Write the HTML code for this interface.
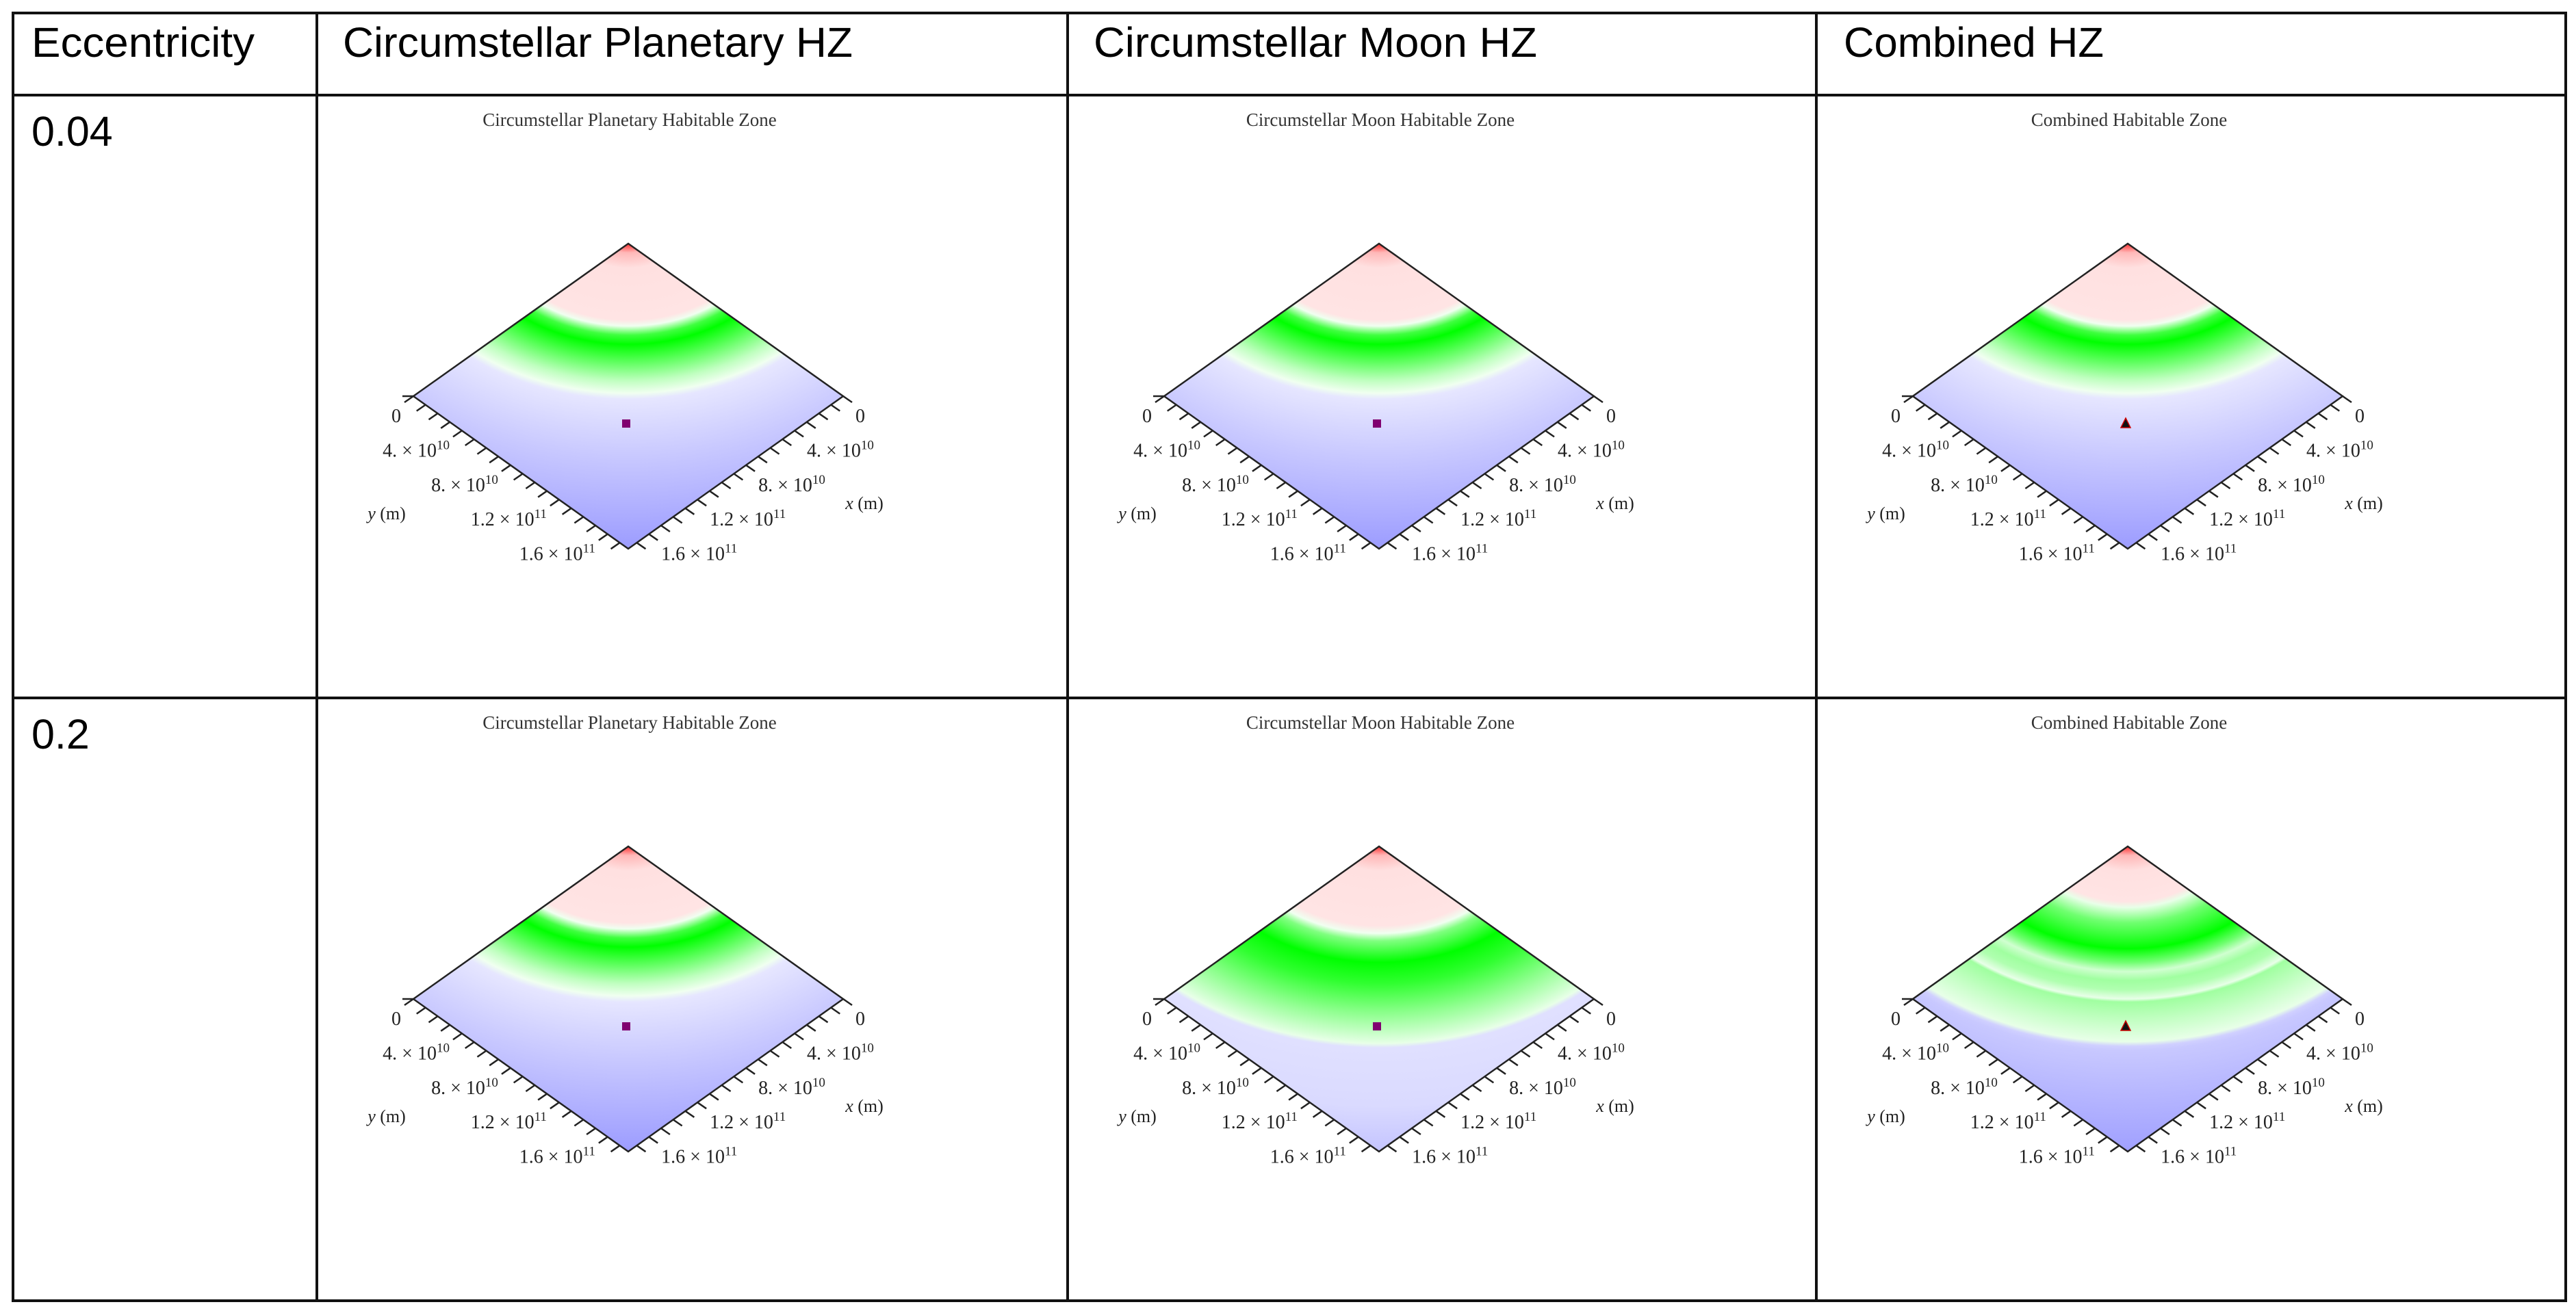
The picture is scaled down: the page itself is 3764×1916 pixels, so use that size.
<!DOCTYPE html>
<html><head><meta charset="utf-8">
<style>
html,body{margin:0;padding:0;background:#fff;}
svg{display:block;}
</style></head>
<body>
<svg id="root" width="3764" height="1916" viewBox="0 0 3764 1916" xmlns="http://www.w3.org/2000/svg">
<defs id="defs"></defs>
<g id="table" stroke="#111" stroke-width="4" fill="none">
<rect x="19" y="19" width="3730" height="1882"/>
<line x1="463" y1="19" x2="463" y2="1901"/>
<line x1="1560" y1="19" x2="1560" y2="1901"/>
<line x1="2654" y1="19" x2="2654" y2="1901"/>
<line x1="19" y1="139" x2="3749" y2="139"/>
<line x1="19" y1="1020" x2="3749" y2="1020"/>
</g>
<g font-family="'Liberation Sans', sans-serif" font-size="61" fill="#000">
<text x="46" y="83" textLength="326" lengthAdjust="spacingAndGlyphs">Eccentricity</text>
<text x="501" y="83" textLength="745" lengthAdjust="spacingAndGlyphs">Circumstellar Planetary HZ</text>
<text x="1598" y="83" textLength="648" lengthAdjust="spacingAndGlyphs">Circumstellar Moon HZ</text>
<text x="2694" y="83" textLength="380" lengthAdjust="spacingAndGlyphs">Combined HZ</text>
<text x="46" y="213">0.04</text>
<text x="46" y="1094">0.2</text>
</g>
<g id="plots"></g>
</svg>
<script>
// ---- data ----
const tickValues = [0, 4e10, 8e10, 1.2e11, 1.6e11];
const tickMantissa = ["0", "4.", "8.", "1.2", "1.6"];
const tickExponent = ["", "10", "10", "11", "11"];
const axisMax = 1.77e11;
const minorStep = 1e10;
const panelTitles = ["Circumstellar Planetary Habitable Zone","Circumstellar Moon Habitable Zone","Combined Habitable Zone"];
const bandA_t = [0, .03, .08, .25, .27, .30, .33, .38, .45, .49, .51, .70, 1];
const bandA_c = ["#ff3030","#ffb8b8","#ffe0e0","#ffe4e4","#f0fff0","#40ff40","#00ff00","#50ff50","#c0ffc0","#f0fff0","#e6e6ff","#c8c8ff","#9c9cff"];
const bandB_t = [0, .03, .08, .26, .285, .31, .38, .45, .55, .63, .646, .66, .85, 1];
const bandB_c = ["#ff3030","#ffb8b8","#ffe0e0","#ffe4e4","#f0fff0","#80ff80","#00ff00","#30ff30","#90ff90","#d8ffd8","#e8ffe8","#e0e0ff","#dadaff","#c4c4ff"];
const bandC_t = [0, .03, .08, .18, .20, .25, .335, .38, .41, .44, .47, .50, .51, .58, .64, .655, .67, 1];
const bandC_c = ["#ff3030","#ffb8b8","#ffe0e0","#ffe4e4","#e8ffe8","#70ff70","#00ff00","#70ff70","#d0ffd0","#a0ffa0","#b0ffb0","#e8ffe8","#a0ffa0","#c8ffc8","#e8ffe8","#d0d0ff","#c8c8ff","#a0a0ff"];
const panelBandT = [[bandA_t,bandA_t,bandA_t],[bandA_t,bandB_t,bandC_t]];
const panelBandC = [[bandA_c,bandA_c,bandA_c],[bandA_c,bandB_c,bandC_c]];
const markerType = ["square","square","triangle"];

// ---- layout ----
const colLeft = [463, 1560, 2654];
const rowTop = [139, 1020];
const HW = 314, HH = 223, D = 0.05;
const NS = "http://www.w3.org/2000/svg";
const plots = document.getElementById('plots');
const defs = document.getElementById('defs');
function mk(tag, attrs, parent){ const e=document.createElementNS(NS,tag); for(const k in attrs) e.setAttribute(k,attrs[k]); if(parent) parent.appendChild(e); return e; }
const Rmax = Math.SQRT2*(1+D);
function tToOffset(t){ return Math.SQRT2*(t+D)/Rmax; }

for(let r=0;r<2;r++){
 for(let c=0;c<3;c++){
  const tx = colLeft[c]+455, ty = rowTop[r]+217;
  const g = mk('g',{},plots);
  
  
  const title = mk('text',{x:tx+2,y:ty-172,'text-anchor':'middle','font-family':"'Liberation Serif', serif",'font-size':27,fill:'#333'},g);
  title.textContent = panelTitles[c];
  
  
  const gid='grad'+r+c;
  const grad = mk('radialGradient',{id:gid,gradientUnits:'userSpaceOnUse',cx:-D,cy:-D,r:Rmax,fx:-D,fy:-D},defs);
  const bt=panelBandT[r][c], bc=panelBandC[r][c];
  for(let i=0;i<bt.length;i++) mk('stop',{offset:tToOffset(bt[i]),'stop-color':bc[i]},grad);
  const surf = mk('g',{transform:`matrix(${HW},${HH},${-HW},${HH},${tx},${ty})`},g);
  const sq = mk('rect',{x:0,y:0,width:1,height:1,fill:`url(#${gid})`},surf);
  
  
  const L=[tx-HW,ty+HH], R=[tx+HW,ty+HH], B=[tx,ty+2*HH];
  const outline = mk('polygon',{points:`${tx},${ty} ${R[0]},${R[1]} ${B[0]},${B[1]} ${L[0]},${L[1]}`,fill:'none',stroke:'#222','stroke-width':2.5},g);
  
  
  mk('line',{x1:L[0]-16,y1:L[1],x2:L[0],y2:L[1],stroke:'#222','stroke-width':2.5},g);
  const ticks = mk('g',{stroke:'#222','stroke-width':2.5},g);
  
  
  for(let v=0; v<=axisMax; v+=minorStep){
   const f=v/axisMax;
   const yl=[L[0]+HW*f, L[1]+HH*f];
   mk('line',{x1:yl[0],y1:yl[1],x2:yl[0]-13,y2:yl[1]+9},ticks);
   const xl=[R[0]-HW*f, R[1]+HH*f];
   mk('line',{x1:xl[0],y1:xl[1],x2:xl[0]+13,y2:xl[1]+9},ticks);
  }
  for(let i=0;i<tickValues.length;i++){
   const f=tickValues[i]/axisMax;
   const yl=[L[0]+HW*f, L[1]+HH*f];
   const xl=[R[0]-HW*f, R[1]+HH*f];
   const ly = mk('text',{x:yl[0]-18,y:yl[1]+38,'text-anchor':'end','font-family':"'Liberation Serif', serif",'font-size':28,fill:'#222'},g);
   
   
   const lx = mk('text',{x:xl[0]+18,y:xl[1]+38,'text-anchor':'start','font-family':"'Liberation Serif', serif",'font-size':28,fill:'#222'},g);
   
   
   for(const el of [ly,lx]){
    if(tickExponent[i]===""){ el.textContent=tickMantissa[i]; }
    else{
     el.appendChild(document.createTextNode(tickMantissa[i]+" \u00d7 10"));
     const s=mk('tspan',{dy:-11,'font-size':19},el); s.textContent=tickExponent[i];
    }
   }
  }
  const yt = mk('text',{x:tx-353,y:ty+403,'text-anchor':'middle','font-family':"'Liberation Serif', serif",'font-size':26,fill:'#222'},g);
  yt.innerHTML='<tspan font-style="italic">y</tspan> (m)';
  
  
  const xt = mk('text',{x:tx+345,y:ty+388,'text-anchor':'middle','font-family':"'Liberation Serif', serif",'font-size':26,fill:'#222'},g);
  xt.innerHTML='<tspan font-style="italic">x</tspan> (m)';
  
  
  const mx=tx-3, my=ty+263;
  let m;
  if(markerType[c]==="square"){ m=mk('rect',{x:mx-6,y:my-6,width:12,height:12,fill:'#800070'},g); }
  else { m=mk('polygon',{points:`${mx},${my-8} ${mx+7},${my+6} ${mx-7},${my+6}`,fill:'#111',stroke:'#c00','stroke-width':1.5},g); }
  
  
 }
}
</script>
</body></html>
